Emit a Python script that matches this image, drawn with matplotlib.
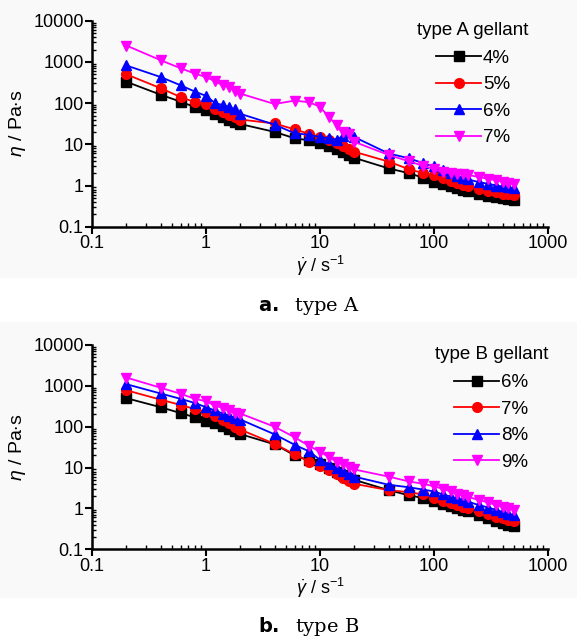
import matplotlib
matplotlib.use("Agg")
import matplotlib.pyplot as plt
from matplotlib.ticker import FixedLocator, FixedFormatter, LogLocator, NullFormatter
from matplotlib.patches import Rectangle

plt.rcParams['font.family'] = ['Liberation Sans', 'DejaVu Sans']
plt.rcParams['mathtext.fontset'] = 'custom'
plt.rcParams['mathtext.rm'] = 'Liberation Sans'
plt.rcParams['mathtext.it'] = 'Liberation Sans:italic'

# shear rates (1/s)
shear = [0.2, 0.4, 0.6, 0.8, 1.0, 1.2, 1.4, 1.6, 1.8, 2.0,
         4, 6, 8, 10, 12, 14, 16, 18, 20,
         40, 60, 80, 100, 120, 140, 160, 180, 200,
         250, 300, 350, 400, 450, 500]

# panel a: type A gellant
a_labels = ['4%', '5%', '6%', '7%']
a_4 = [330, 160, 108, 80, 68, 55, 47, 40, 35, 31,
       20, 14, 12.5, 10.5, 9.0, 7.8, 6.6, 5.6, 4.7,
       2.6, 2.0, 1.55, 1.25, 1.08, 0.95, 0.87, 0.80, 0.73,
       0.64, 0.57, 0.52, 0.49, 0.46, 0.44]
a_5 = [500, 230, 140, 105, 95, 70, 60, 52, 45, 40,
       32, 23, 18, 15, 13, 11, 9.0, 7.5, 6.6,
       3.8, 2.5, 2.0, 1.8, 1.5, 1.3, 1.15, 1.05, 0.95,
       0.82, 0.74, 0.68, 0.64, 0.61, 0.59]
a_6 = [820, 430, 270, 190, 150, 100, 90, 80, 70, 55,
       30, 18.5, 17, 15, 14, 13, 16, 20, 15,
       6.0, 4.6, 3.5, 2.9, 2.4, 2.0, 1.7, 1.55, 1.4,
       1.2, 1.1, 1.0, 0.95, 0.9, 0.85]
a_7 = [2500, 1100, 700, 520, 430, 340, 270, 250, 200, 170,
       95, 115, 105, 82, 45, 30, 20, 18, 11.5,
       5.5, 3.9, 3.0, 2.5, 2.1, 2.0, 1.95, 1.9, 1.8,
       1.6, 1.45, 1.35, 1.25, 1.15, 1.1]

# panel b: type B gellant
b_labels = ['6%', '7%', '8%', '9%']
b_6 = [500, 300, 215, 170, 140, 120, 105, 90, 78, 66,
       37, 20, 15, 12, 9.5, 7.8, 6.5, 5.5, 5.0,
       2.8, 2.1, 1.8, 1.5, 1.3, 1.15, 1.0, 0.92, 0.85,
       0.70, 0.58, 0.50, 0.45, 0.40, 0.37]
b_7 = [780, 460, 340, 270, 230, 180, 150, 125, 100, 85,
       38, 21, 14, 10.7, 8.5, 7.0, 5.5, 4.6, 4.0,
       2.8, 2.5, 2.2, 1.8, 1.55, 1.35, 1.2, 1.1, 1.0,
       0.85, 0.72, 0.63, 0.57, 0.53, 0.50]
b_8 = [1100, 650, 480, 380, 300, 250, 210, 185, 165, 150,
       65, 36, 25, 15.5, 12, 10, 8.3, 7.0, 6.0,
       3.8, 3.3, 2.9, 2.6, 2.2, 1.95, 1.75, 1.6, 1.45,
       1.2, 1.05, 0.92, 0.82, 0.75, 0.69]
b_9 = [1600, 900, 640, 480, 420, 330, 290, 250, 220, 210,
       100, 55, 34, 24.5, 18, 14, 12, 10.5, 9.0,
       6.0, 4.6, 4.0, 3.5, 3.0, 2.6, 2.3, 2.1, 1.9,
       1.6, 1.4, 1.2, 1.08, 1.0, 0.93]

colors = ['#000000', '#ff0000', '#0000ff', '#ff00ff']
markers = ['s', 'o', '^', 'v']

xticks = [0.1, 1, 10, 100, 1000]
xticklabels = ['0.1', '1', '10', '100', '1000']
yticks = [0.1, 1, 10, 100, 1000, 10000]
yticklabels = ['0.1', '1', '10', '100', '1000', '10000']

fig = plt.figure(figsize=(5.77, 6.39), dpi=100)
fig.patch.set_facecolor('white')

# light panel backgrounds
fig.patches.append(Rectangle((0, 1 - 278 / 639), 1, 278 / 639, transform=fig.transFigure,
                             facecolor='#f9f9f9', edgecolor='none', zorder=-10))
fig.patches.append(Rectangle((0, 1 - 598 / 639), 1, (598 - 322) / 639, transform=fig.transFigure,
                             facecolor='#f9f9f9', edgecolor='none', zorder=-10))

panels = [
    ([0.1594, 0.6452, 0.7903, 0.3224], [a_4, a_5, a_6, a_7], a_labels, 'type A gellant', 0.958),
    ([0.1594, 0.1404, 0.7903, 0.3197], [b_6, b_7, b_8, b_9], b_labels, 'type B gellant', 1.0),
]

for rect, series, labels, title, legx in panels:
    ax = fig.add_axes(rect)
    ax.patch.set_alpha(0)
    for vals, lab, c, m in zip(series, labels, colors, markers):
        ax.plot(shear, vals, color=c, marker=m, markersize=7, linewidth=1.3,
                label=lab, clip_on=False)
    ax.set_xscale('log')
    ax.set_yscale('log')
    ax.set_xlim(0.1, 1000)
    ax.set_ylim(0.1, 10000)
    for s in ['top', 'right']:
        ax.spines[s].set_visible(False)
    for s in ['left', 'bottom']:
        ax.spines[s].set_linewidth(1.8)
    ax.xaxis.set_major_locator(FixedLocator(xticks))
    ax.xaxis.set_major_formatter(FixedFormatter(xticklabels))
    ax.yaxis.set_major_locator(FixedLocator(yticks))
    ax.yaxis.set_major_formatter(FixedFormatter(yticklabels))
    ax.xaxis.set_minor_locator(LogLocator(base=10, subs=range(2, 10), numticks=20))
    ax.yaxis.set_minor_locator(LogLocator(base=10, subs=range(2, 10), numticks=20))
    ax.xaxis.set_minor_formatter(NullFormatter())
    ax.yaxis.set_minor_formatter(NullFormatter())
    ax.tick_params(axis='both', which='major', direction='out', length=5, width=1.5,
                   labelsize=13, pad=1)
    ax.tick_params(axis='both', which='minor', direction='in', length=3, width=1.0)
    ax.set_ylabel(r'$\mathit{\eta}$ / Pa$\cdot$s', fontsize=14, labelpad=4)
    ax.set_xlabel(r'$\dot{\gamma}$ / s$^{-1}$', fontsize=13, labelpad=1)
    leg = ax.legend(title=title, loc='upper right', bbox_to_anchor=(legx, 0.995),
                    frameon=False, fontsize=13.5, title_fontsize=13.5, handlelength=2.4,
                    handletextpad=0.1, labelspacing=0.5, borderaxespad=0.0,
                    borderpad=0.0, alignment='center')
    leg._legend_box.sep = 8

fig.text(309 / 577, 1 - 306 / 639, r'$\mathbf{a.}$  type A', ha='center', va='center',
         fontsize=14, family='DejaVu Serif')
fig.text(309 / 577, 1 - 626 / 639, r'$\mathbf{b.}$  type B', ha='center', va='center',
         fontsize=14, family='DejaVu Serif')

fig.savefig('out.png', dpi=100, facecolor='white')
